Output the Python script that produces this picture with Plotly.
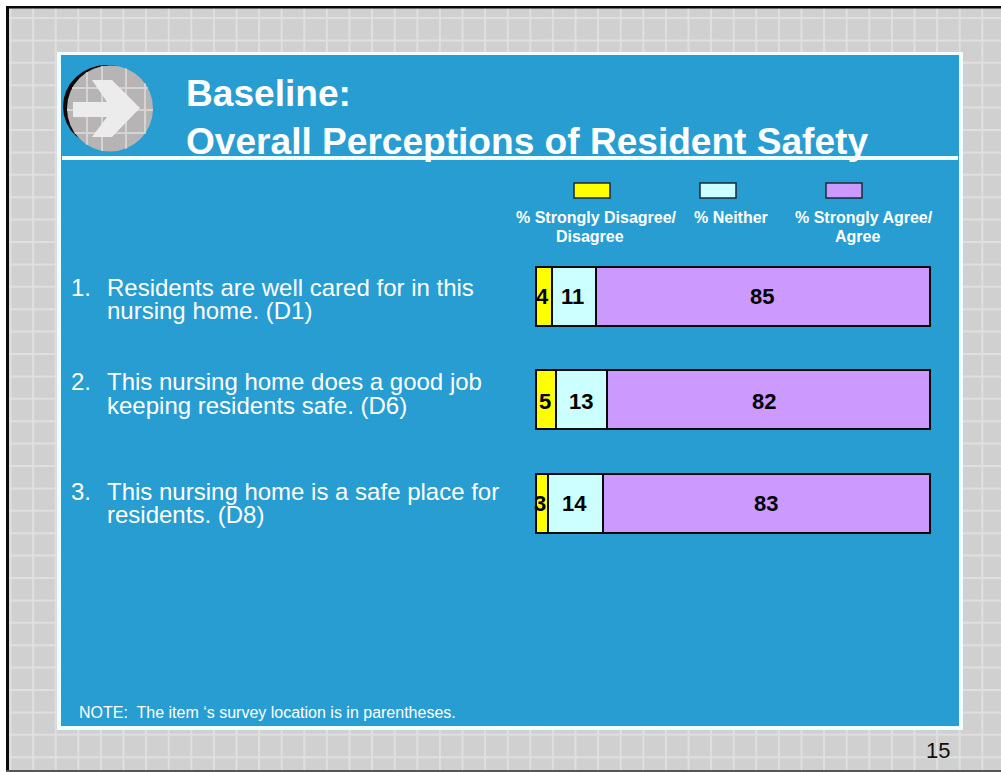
import math
import plotly.graph_objects as go

categories = ["D1", "D6", "D8"]
disagree = [4, 5, 3]
neither = [11, 13, 14]
agree = [85, 82, 83]
series_names = ["% Strongly Disagree/ Disagree", "% Neither", "% Strongly Agree/ Agree"]
colors = ["#FFFF00", "#CCFFFF", "#CC99FF"]
# small optical nudges of the value labels, in pixels
label_xshift = [[-2, -1, -1], [-1, -1, -5], [-2, -1, -1]]
label_yshift = [0, -2, 0]

W, H = 1001, 772
BLUE = "#279DD2"
GREY = "#D0D0D0"
LINE = "#DFDFDF"
EDGE = "#EFFFFF"
FONT = "Liberation Sans"


def px(x):
    return x / W


def py(y):
    return 1 - y / H


def rect(x0, y0, x1, y1, fill):
    return dict(type="rect", xref="paper", yref="paper", x0=px(x0), x1=px(x1), y0=py(y0), y1=py(y1),
                fillcolor=fill, line=dict(width=0), layer="below")


def seg(x0, y0, x1, y1, color, width):
    return dict(type="line", xref="paper", yref="paper", x0=px(x0), x1=px(x1), y0=py(y0), y1=py(y1),
                line=dict(color=color, width=width), layer="below")


def text(x, y, s, size, color="white", bold=False, anchor="left"):
    return dict(xref="paper", yref="paper", x=px(x), y=py(y), text=f"<b>{s}</b>" if bold else s,
                showarrow=False, xanchor=anchor, yanchor="middle", borderpad=0,
                font=dict(family=FONT, size=size, color=color))


shapes = [rect(0, 0, W, H, "white"), rect(7, 7, W, 771, GREY)]
# background tile grid
for i in range(0, 44):
    x = 10.5 + i * 22.6
    shapes.append(seg(x, 8, x, 770, LINE, 2))
for i in range(0, 34):
    y = 18 + i * 22.4
    shapes.append(seg(8, y, W, y, LINE, 2))
# frame
shapes += [
    rect(6, 6, 9, 771, "#0A0A0A"),
    rect(6, 6, W, 8.5, "#0A0A0A"),
    rect(6, 770, W, 772, "#555555"),
    rect(57, 52, 963, 730, EDGE),
    rect(61, 55, 959, 726, BLUE),
    rect(62, 156, 958, 160, EDGE),
]
# round icon
cx, cy, r = 110, 108.5, 43
shapes += [
    dict(type="circle", xref="paper", yref="paper", x0=px(63), x1=px(150), y0=py(65), y1=py(148),
         fillcolor="#0A0A0A", line=dict(width=0), layer="below"),
    dict(type="circle", xref="paper", yref="paper", x0=px(cx - r), x1=px(cx + r), y0=py(cy - r), y1=py(cy + r),
         fillcolor="#B6B4B5", line=dict(width=0), layer="below"),
]
for x in (87, 102, 126, 145):
    d = math.sqrt(r * r - (x - cx) ** 2)
    shapes.append(seg(x, cy - d, x, cy + d, "#D5D3D4", 2))
for y in (88, 110, 133):
    d = math.sqrt(r * r - (y - cy) ** 2)
    shapes.append(seg(cx - d, y, cx + d, y, "#D5D3D4", 2))
arrow = [(92, 80), (112, 80), (140, 108), (112, 137), (92, 137), (107, 117), (73, 117), (73, 102), (107, 102)]
path = "M " + " L ".join(f"{px(a):.5f},{py(b):.5f}" for a, b in arrow) + " Z"
shapes.append(dict(type="path", xref="paper", yref="paper", path=path, fillcolor="#ECECEC",
                   line=dict(width=0), layer="below"))
# legend swatches
for (x0, x1), c in zip([(574, 610), (700, 736), (826, 862)], colors):
    shapes.append(dict(type="rect", xref="paper", yref="paper", x0=px(x0), x1=px(x1), y0=py(183), y1=py(198),
                       fillcolor=c, line=dict(color="#1A2A3A", width=1.5), layer="below"))

annotations = [
    text(185, 93, "Baseline:", 31 * 682 / 570, bold=True),
    text(185, 141, "Overall Perceptions of Resident Safety", 31 * 682 / 570, bold=True),
    text(596, 217, "% Strongly Disagree/", 16, bold=True, anchor="center"),
    text(590, 237, "Disagree", 16, bold=True, anchor="center"),
    text(731, 217, "% Neither", 16, bold=True, anchor="center"),
    text(863.5, 217, "% Strongly Agree/", 16, bold=True, anchor="center"),
    text(857, 237, "Agree", 16, bold=True, anchor="center"),
    text(70, 287, "1.", 24),
    text(106, 287, "Residents are well cared for in this", 24),
    text(106, 310, "nursing home. (D1)", 24),
    text(70, 381, "2.", 24),
    text(106, 381, "This nursing home does a good job", 24),
    text(106, 405, "keeping residents safe. (D6)", 24),
    text(70, 491, "3.", 24),
    text(106, 491, "This nursing home is a safe place for", 24),
    text(106, 514, "residents. (D8)", 24),
    text(78, 712, "NOTE:  The item ‘s survey location is in parentheses.", 16),
    text(925, 750, "15", 22, color="#111111"),
]

fig = go.Figure()
for vals, name, c in zip([disagree, neither, agree], series_names, colors):
    fig.add_trace(go.Bar(
        y=categories, x=vals, name=name, orientation="h",
        marker=dict(color=c, line=dict(color="#0A0A0A", width=2)),
        hoverinfo="skip",
    ))

# value labels, placed on the axes at the middle of each stacked segment
for row, cat in enumerate(categories):
    base = 0
    for col, vals in enumerate([disagree, neither, agree]):
        v = vals[row]
        annotations.append(dict(
            xref="x", yref="y", x=base + v / 2, y=cat, text=f"<b>{v}</b>", showarrow=False,
            xanchor="center", yanchor="middle", borderpad=0,
            xshift=label_xshift[row][col], yshift=label_yshift[row],
            font=dict(family=FONT, size=22, color="black"),
        ))
        base += v

left, right = 536.5, 930
unit = (right - left) / 100
fig.update_layout(
    width=W, height=H, margin=dict(l=0, r=0, t=0, b=0),
    barmode="stack", bargap=0.43, showlegend=False,
    paper_bgcolor="white", plot_bgcolor="rgba(0,0,0,0)",
    xaxis=dict(domain=[px(left - unit), px(right + unit)], range=[-1, 101], visible=False, fixedrange=True),
    yaxis=dict(domain=[py(555), py(244.5)], range=[2.5, -0.5], type="category",
               categoryorder="array", categoryarray=categories, visible=False, fixedrange=True),
    shapes=shapes, annotations=annotations,
)
fig.write_html("out.html", config=dict(displayModeBar=False),
               post_script="document.body.style.margin='0';document.documentElement.style.overflow='hidden';")
